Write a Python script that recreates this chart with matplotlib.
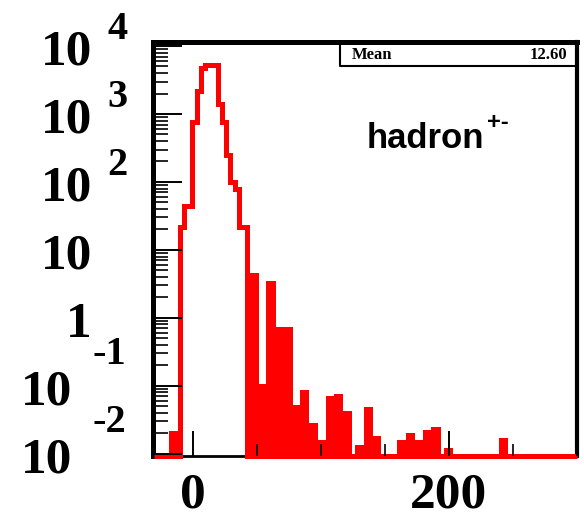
import numpy as np
import matplotlib
matplotlib.use("Agg")
import matplotlib.pyplot as plt
from matplotlib.ticker import LogLocator, MultipleLocator, NullFormatter

# histogram: 100 bins from -30 to 300, contents
bin_lo, bin_hi, n_bins = -30, 300, 100
counts = [
    0, 0, 0, 0, 0.02, 0, 22, 45, 45, 750,
    2200, 4800, 5300, 5300, 5300, 1400, 760, 250, 100, 80,
    22, 22, 0, 4.3, 0, 0.1, 0, 3.3, 0, 0.69,
    0, 0.69, 0, 0.049, 0, 0.081, 0, 0.027, 0, 0.015,
    0, 0.066, 0, 0.07, 0, 0.04, 0, 0, 0.0126, 0,
    0.046, 0, 0.017, 0, 0, 0, 0, 0, 0.015, 0,
    0.019, 0, 0.015, 0, 0.021, 0, 0.023, 0, 0, 0.0115,
    0, 0, 0, 0, 0, 0, 0, 0, 0, 0,
    0, 0, 0.016, 0, 0, 0, 0, 0, 0, 0,
    0, 0, 0, 0, 0, 0, 0, 0, 0, 0,
]
mean_text = "12.60"
label = "hadron"
label_sup = "+-"
y_decades = [-2, -1, 0, 1, 2, 3, 4]
x_labels = [0, 200]

ymin, ymax = 0.0093, 11450
serif = "Liberation Serif"

fig = plt.figure(figsize=(5.84, 5.14), dpi=100)
ax = fig.add_axes([153 / 584, 1 - 456 / 514, 424 / 584, 414 / 514])

edges = np.linspace(bin_lo, bin_hi, n_bins + 1)
vals = np.array(counts, dtype=float)
vals = np.where(vals > 0, vals, ymin)  # empty bins sit on the frame bottom
ax.stairs(vals, edges, baseline=ymin, color="red", linewidth=3.6,
          zorder=3, clip_on=False)

ax.set_yscale("log")
ax.set_ylim(ymin, ymax)
ax.set_xlim(-31, 300)

ax.yaxis.set_major_locator(LogLocator(base=10, numticks=20))
ax.yaxis.set_minor_locator(LogLocator(base=10, subs=np.arange(2, 10), numticks=20))
ax.yaxis.set_major_formatter(NullFormatter())
ax.yaxis.set_minor_formatter(NullFormatter())
ax.xaxis.set_major_locator(MultipleLocator(200))
ax.xaxis.set_minor_locator(MultipleLocator(50))
ax.xaxis.set_major_formatter(NullFormatter())

ax.tick_params(axis="y", which="major", direction="in", length=21, width=1.4,
               left=True, right=False, labelleft=False)
ax.tick_params(axis="y", which="minor", direction="in", length=11, width=1.2,
               left=True, right=False)
ax.tick_params(axis="x", which="major", direction="in", length=18, width=1.4,
               bottom=True, top=False, labelbottom=False)
ax.tick_params(axis="x", which="minor", direction="in", length=9, width=1.2,
               bottom=True, top=False)
ax.xaxis.set_zorder(4)
ax.yaxis.set_zorder(4)

for side, w in [("left", 3.6), ("top", 3.6), ("right", 3.0), ("bottom", 2.0)]:
    ax.spines[side].set_linewidth(w)

# ROOT-style y labels: "10" plus raised exponent
for k in y_decades:
    y = 10.0 ** k
    if k == 0:
        ax.annotate("1", xy=(0, y), xycoords=("axes fraction", "data"),
                    xytext=(-61, -19), textcoords="offset pixels",
                    ha="right", va="baseline", fontsize=37,
                    fontweight="bold", family=serif, annotation_clip=False)
        continue
    dx10 = -61 if k > 0 else -81
    ax.annotate("10", xy=(0, y), xycoords=("axes fraction", "data"),
                xytext=(dx10, -19), textcoords="offset pixels",
                ha="right", va="baseline", fontsize=37,
                fontweight="bold", family=serif, annotation_clip=False)
    if k == 1:
        continue
    if k > 0:
        ax.annotate(str(k), xy=(0, y), xycoords=("axes fraction", "data"),
                    xytext=(-46, 7), textcoords="offset pixels",
                    ha="left", va="baseline", fontsize=29,
                    fontweight="bold", family=serif, annotation_clip=False)
    else:
        ax.annotate(str(k), xy=(0, y), xycoords=("axes fraction", "data"),
                    xytext=(-60, 22), textcoords="offset pixels",
                    ha="left", va="baseline", fontsize=29,
                    fontweight="bold", family=serif, annotation_clip=False)

for xv in x_labels:
    ax.annotate(str(xv), xy=(xv, 0), xycoords=("data", "axes fraction"),
                xytext=(0, -52), textcoords="offset pixels",
                ha="center", va="baseline", fontsize=37,
                fontweight="bold", family=serif, annotation_clip=False)

# stats box
bx, by = 0.441, 0.942
ax.plot([bx, bx, 1], [1, by, by], transform=ax.transAxes, color="black",
        lw=1.5, clip_on=False, zorder=5)
ax.text(0.469, 0.969, "Mean", transform=ax.transAxes, ha="left", va="center",
        fontsize=12, fontweight="bold", family=serif)
ax.text(0.976, 0.969, mean_text, transform=ax.transAxes, ha="right",
        va="center", fontsize=12, fontweight="bold", family=serif)

ax.text(0.505, 0.744, label, transform=ax.transAxes, ha="left",
        va="baseline", fontsize=25, fontweight="bold", family="Liberation Sans")
ax.text(0.788, 0.79, label_sup, transform=ax.transAxes, ha="left",
        va="baseline", fontsize=17, fontweight="bold", family="Liberation Sans")

fig.savefig("out.png", dpi=100)
